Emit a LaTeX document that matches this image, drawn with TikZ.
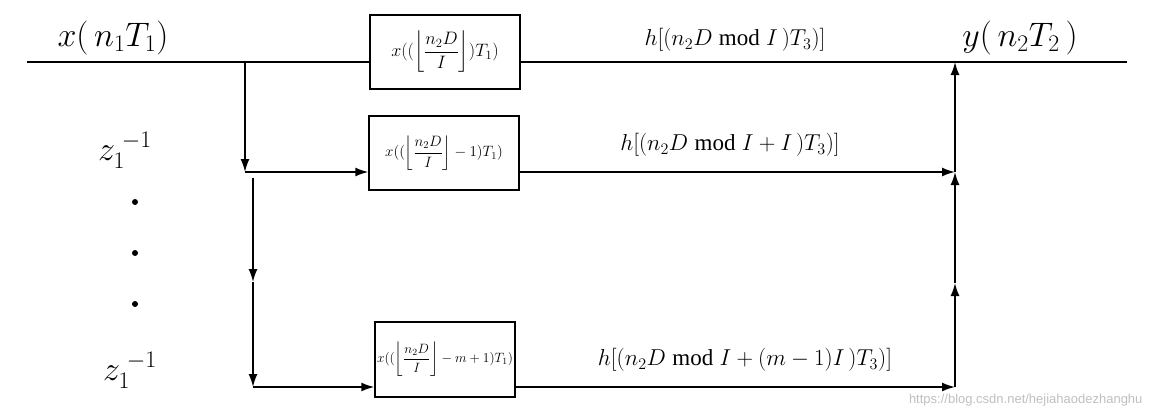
\documentclass[tikz,border=0pt]{standalone}
\usepackage{fix-cm}
\usepackage{amsmath}
\usepackage{fontspec}
\setmainfont{Liberation Serif}
\setsansfont{Liberation Sans}
\usepackage{tikz}
\usetikzlibrary{positioning, calc, arrows.meta}
\tikzset{
    tapbox/.style={
        rectangle,
        draw=black,
        line width=1.4pt,
        minimum width=150pt,
        minimum height=74pt,
        inner sep=1pt,
        font=\fontsize{15}{17}\selectfont
    },
    sig/.style={line width=1.6pt, draw=black},
    arrow/.style={sig, -{Latex[length=13pt, width=9pt]}},
    siglabel/.style={font=\fontsize{34}{37}\selectfont},
    coef/.style={font=\fontsize{23}{26}\selectfont},
    ellip/.style={circle, fill=black, inner sep=0pt, minimum size=6pt}
}

\begin{document}
\begin{tikzpicture}[x=1pt, y=-1pt]
\useasboundingbox (0,0) rectangle (1152,415);

% Input / output line
\coordinate (in) at (27,62);
\coordinate (out) at (1127,62);
\node[siglabel] (xin) at (113,38) {$x(\,n_1T_1)$};
\node[siglabel] (yout) at (1020,38) {$y(\,n_2T_2\,)$};

% Taps
\node[tapbox, font=\fontsize{18}{20}\selectfont] (b1) at (445,52) {$x((\left\lfloor\dfrac{n_2D}{I}\right\rfloor)T_1)$};
\node[tapbox] (b2) at (444,153) {$x((\left\lfloor\dfrac{n_2D}{I}\right\rfloor-1)T_1)$};
\node[tapbox, minimum width=140pt, minimum height=75pt, font=\fontsize{13.5}{16}\selectfont] (b3) at (445,359.5) {$x((\left\lfloor\dfrac{n_2D}{I}\right\rfloor-m+1)T_1)$};

\coordinate (s1) at (245,62);
\coordinate (t1) at (245,172);
\coordinate (d1) at (253,178);
\coordinate (d2) at (253,282);
\coordinate (t3) at (253,387);
\coordinate (r1) at (955,62);
\coordinate (r2) at (955,172);
\coordinate (r3) at (955,283);
\coordinate (r4) at (955,387);

\draw[sig] (in) -- (in -| b1.west);
\draw[sig] (b1.east |- in) -- (out);
\draw[arrow] (s1) -- (t1);
\draw[arrow] (t1) -- (t1 -| b2.west);
\draw[arrow] (d1) -- (d2);
\draw[arrow] (d2) -- (t3);
\draw[arrow] (t3) -- (t3 -| b3.west);

\draw[arrow] (b2.east |- r2) -- (r2);
\draw[arrow] (b3.east |- r4) -- (r4);
\draw[arrow] (r4) -- (r3);
\draw[arrow] (r3) -- (r2);
\draw[arrow] (r2) -- (r1);

% Coefficients
\node[coef] (h1) at (735,40) {$h[(n_2D\;\text{mod}\;I\,)T_3)]$};
\node[coef] (h2) at (730,145) {$h[(n_2D\;\text{mod}\;I+I\,)T_3)]$};
\node[coef] (h3) at (745,360) {$h[(n_2D\;\text{mod}\;I+(m-1)I\,)T_3)]$};

% Delays
\node[siglabel] (z1) at (125,150) {$z_1^{\;-1}$};
\node[siglabel] (z2) at (130,370) {$z_1^{\;-1}$};
\node[ellip] (e1) at (135,202) {};
\node[ellip] (e2) at (135,253) {};
\node[ellip] (e3) at (135,304) {};

\node[font=\sffamily\fontsize{13}{15}\selectfont, text=black!25, anchor=east] (wm) at (1146,400) {https://blog.csdn.net/hejiahaodezhanghu};

\end{tikzpicture}
\end{document}
